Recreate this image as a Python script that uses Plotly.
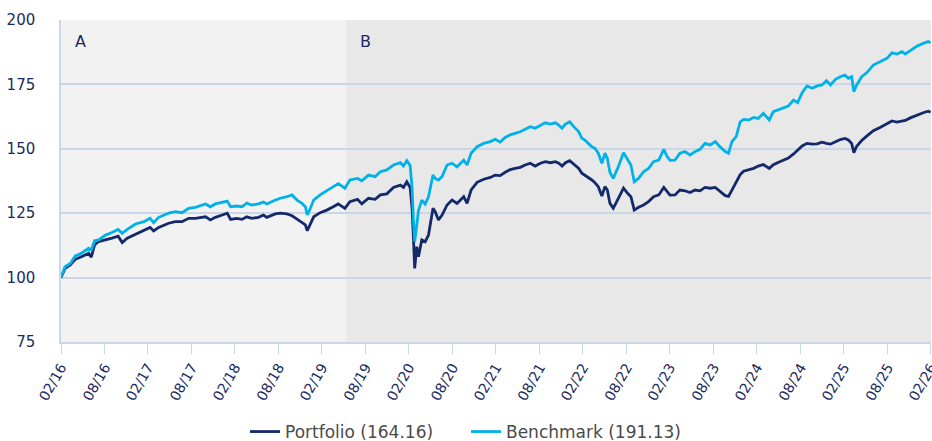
import plotly.graph_objects as go

# ---------------- data ----------------
dates = [
    "2016-02-29", "2016-03-17", "2016-04-08", "2016-04-29", "2016-05-20", "2016-06-10", "2016-06-24",
    "2016-07-05", "2016-07-19", "2016-08-05", "2016-09-03", "2016-09-30", "2016-10-26", "2016-11-12",
    "2016-12-03", "2017-01-07", "2017-02-11", "2017-03-09", "2017-03-24", "2017-04-14", "2017-05-26",
    "2017-06-23", "2017-07-21", "2017-08-18", "2017-09-15", "2017-10-28", "2017-11-17", "2017-12-08",
    "2018-01-06", "2018-01-27", "2018-02-10", "2018-03-08", "2018-03-30", "2018-04-19", "2018-05-10",
    "2018-06-07", "2018-06-28", "2018-07-12", "2018-08-17", "2018-09-07", "2018-10-05", "2018-10-26",
    "2018-11-16", "2018-12-07", "2018-12-21", "2018-12-29", "2019-01-11", "2019-01-25", "2019-02-21",
    "2019-03-21", "2019-04-17", "2019-05-08", "2019-06-05", "2019-06-26", "2019-07-28", "2019-08-15",
    "2019-09-12", "2019-10-10", "2019-11-01", "2019-11-28", "2019-12-26", "2020-01-24", "2020-02-06",
    "2020-02-20", "2020-03-05", "2020-03-13", "2020-03-19", "2020-03-24", "2020-04-02", "2020-04-09",
    "2020-04-23", "2020-05-07", "2020-05-21", "2020-06-09", "2020-06-18", "2020-07-02", "2020-07-17",
    "2020-08-07", "2020-08-28", "2020-09-18", "2020-10-16", "2020-10-30", "2020-11-16", "2020-12-11",
    "2021-01-08", "2021-02-05", "2021-02-25", "2021-03-18", "2021-04-08", "2021-04-29", "2021-05-20",
    "2021-06-10", "2021-07-01", "2021-07-22", "2021-08-12", "2021-09-03", "2021-09-23", "2021-10-15",
    "2021-11-05", "2021-11-19", "2021-12-03", "2021-12-17", "2022-01-04", "2022-01-21", "2022-02-11",
    "2022-02-24", "2022-03-09", "2022-03-23", "2022-04-07", "2022-04-20", "2022-05-04", "2022-05-19",
    "2022-06-01", "2022-06-11", "2022-06-22", "2022-07-06", "2022-07-27", "2022-08-18", "2022-09-04",
    "2022-09-18", "2022-10-02", "2022-10-20", "2022-11-10", "2022-12-01", "2022-12-22", "2023-01-13",
    "2023-02-03", "2023-02-16", "2023-03-01", "2023-03-22", "2023-04-12", "2023-05-03", "2023-05-24",
    "2023-06-14", "2023-07-05", "2023-07-26", "2023-08-17", "2023-09-07", "2023-09-27", "2023-10-19",
    "2023-11-02", "2023-11-16", "2023-12-04", "2023-12-21", "2024-01-04", "2024-01-26", "2024-02-15",
    "2024-03-06", "2024-03-27", "2024-04-21", "2024-05-08", "2024-05-30", "2024-06-19", "2024-07-10",
    "2024-08-01", "2024-08-18", "2024-09-06", "2024-09-26", "2024-10-18", "2024-11-08", "2024-11-28",
    "2024-12-17", "2025-01-03", "2025-01-24", "2025-02-13", "2025-03-05", "2025-03-19", "2025-04-02",
    "2025-04-11", "2025-04-23", "2025-05-14", "2025-06-04", "2025-07-02", "2025-07-30", "2025-08-28",
    "2025-09-18", "2025-10-09", "2025-10-30", "2025-11-13", "2025-12-04", "2026-01-02", "2026-01-30",
    "2026-02-18", "2026-02-27",
]

portfolio = [
    100.0, 103.6, 104.9, 107.1, 107.9, 108.8, 109.4,
    107.9, 112.7, 114.0, 114.6, 115.3, 116.1, 113.6,
    115.3, 116.9, 118.5, 119.5, 118.1, 119.5, 121.1,
    121.7, 121.7, 123.0, 123.0, 123.6, 122.4, 123.4,
    124.3, 125.0, 122.6, 123.0, 122.6, 123.6, 123.0,
    123.4, 124.3, 123.4, 124.7, 125.0, 124.7, 124.0,
    122.7, 121.5, 120.5, 118.2, 121.1, 123.6, 125.2,
    126.2, 127.5, 128.6, 126.9, 129.5, 130.4, 128.6,
    130.8, 130.4, 132.1, 132.5, 135.0, 135.9, 135.0,
    137.2, 135.0, 127.0, 115.0, 103.6, 112.0, 108.1,
    114.6, 113.9, 116.5, 126.9, 125.6, 122.4, 124.3,
    128.2, 130.1, 128.8, 131.4, 128.8, 134.0, 137.0,
    138.2, 138.9, 139.8, 139.6, 140.9, 141.9, 142.4,
    142.8, 143.7, 144.4, 143.3, 144.4, 145.0, 144.6,
    145.0, 144.4, 143.3, 144.6, 145.4, 144.1, 142.4,
    140.5, 139.8, 138.9, 137.9, 136.8, 135.3, 131.7,
    135.3, 134.0, 128.8, 126.9, 130.8, 134.7, 132.7,
    131.4, 126.2, 127.3, 128.2, 129.5, 131.4, 132.1,
    135.0, 133.3, 132.0, 132.1, 134.0, 133.7, 133.0,
    134.0, 133.7, 135.0, 134.7, 135.0, 133.3, 131.8,
    131.5, 134.0, 136.8, 140.0, 141.3, 141.9, 142.4,
    143.3, 143.9, 142.4, 143.8, 144.8, 145.6, 146.4,
    148.0, 149.4, 151.1, 152.1, 151.8, 151.9, 152.6,
    152.1, 151.8, 152.7, 153.6, 154.0, 153.4, 152.1,
    148.5, 151.0, 153.2, 154.9, 157.0, 158.3, 159.7,
    160.8, 160.4, 160.9, 161.0, 162.0, 163.2, 164.1,
    164.6, 164.16,
]

benchmark = [
    100.0, 104.2, 105.5, 108.4, 109.2, 110.7, 111.4,
    110.7, 114.3, 114.6, 116.5, 117.5, 118.7, 117.2,
    118.7, 120.8, 121.7, 123.0, 121.3, 123.4, 125.0,
    125.6, 125.2, 126.9, 127.3, 128.6, 127.5, 128.6,
    129.1, 129.7, 127.5, 127.8, 127.5, 128.9, 128.2,
    128.6, 129.3, 128.6, 130.1, 130.8, 131.4, 132.1,
    130.1, 128.8, 127.5, 124.3, 126.9, 130.1, 132.1,
    133.7, 135.0, 136.5, 134.7, 137.9, 138.5, 137.6,
    139.8, 139.2, 141.1, 141.8, 143.7, 144.6, 143.3,
    145.4, 143.5, 135.0, 122.0, 113.9, 120.5, 126.0,
    130.1, 128.5, 131.4, 139.8, 138.5, 137.9, 139.2,
    143.7, 144.4, 143.0, 145.6, 143.7, 148.3, 150.8,
    152.1, 152.8, 153.7, 152.6, 154.4, 155.4, 156.0,
    156.6, 157.6, 158.6, 158.0, 159.2, 160.1, 159.6,
    160.1, 159.2, 158.0, 159.6, 160.5, 158.6, 156.6,
    154.1, 153.4, 152.1, 150.8, 150.2, 148.3, 144.4,
    148.3, 146.3, 140.8, 138.5, 143.0, 148.5, 145.6,
    143.7, 137.2, 138.5, 141.1, 142.4, 145.0, 145.6,
    149.8, 147.2, 145.5, 145.6, 148.3, 148.9, 147.6,
    148.9, 149.8, 152.1, 151.5, 152.8, 150.8, 148.9,
    148.3, 152.8, 154.7, 160.5, 161.4, 161.2, 162.2,
    161.8, 163.8, 161.2, 164.4, 165.1, 165.7, 166.6,
    168.9, 167.9, 171.8, 174.4, 173.5, 174.4, 174.8,
    176.4, 174.8, 177.0, 178.0, 178.6, 177.4, 178.0,
    172.2, 174.8, 178.0, 179.5, 182.5, 183.8, 185.1,
    187.3, 186.8, 187.7, 186.8, 188.1, 189.9, 191.0,
    191.6, 191.13,
]

series_names = ["Portfolio (164.16)", "Benchmark (191.13)"]

period_labels = ["A", "B"]
period_starts = ["2016-02-29", "2019-06-10"]
period_ends = ["2019-06-10", "2026-03-01"]

tick_dates = [
    "2016-02-29", "2016-08-31", "2017-02-28", "2017-08-31", "2018-02-28", "2018-08-31",
    "2019-02-28", "2019-08-31", "2020-02-29", "2020-08-31", "2021-02-28", "2021-08-31",
    "2022-02-28", "2022-08-31", "2023-02-28", "2023-08-31", "2024-02-29", "2024-08-31",
    "2025-02-28", "2025-08-31", "2026-02-28",
]
tick_labels = [
    "02/16", "08/16", "02/17", "08/17", "02/18", "08/18", "02/19", "08/19", "02/20", "08/20",
    "02/21", "08/21", "02/22", "08/22", "02/23", "08/23", "02/24", "08/24", "02/25", "08/25",
    "02/26",
]
y_ticks = [75, 100, 125, 150, 175, 200]

# ---------------- style ----------------
FONT = "DejaVu Sans"
NAVY_TEXT = "#1b2a5e"
GRID = "#c9d6e8"
period_colors = ["#f2f2f2", "#e8e8e8"]
line_colors = ["#13296b", "#00b2e8"]

fig = go.Figure()
for name, vals, col in zip(series_names, [portfolio, benchmark], line_colors):
    fig.add_trace(go.Scatter(
        x=dates, y=vals, mode="lines", name=name,
        line=dict(color=col, width=2.8), hoverinfo="skip",
    ))

shapes = []
annotations = []
for lab, s, e, c in zip(period_labels, period_starts, period_ends, period_colors):
    shapes.append(dict(type="rect", xref="x", yref="paper", x0=s, x1=e, y0=0, y1=1,
                       fillcolor=c, line=dict(width=0), layer="below"))
    annotations.append(dict(x=s, y=1, xref="x", yref="paper", text=lab, showarrow=False,
                            xanchor="left", yanchor="top", xshift=12, yshift=-10,
                            font=dict(family=FONT, size=16, color=NAVY_TEXT)))

fig.update_layout(
    width=932, height=441,
    margin=dict(l=61, r=1, t=20, b=99),
    paper_bgcolor="white",
    plot_bgcolor="white",
    shapes=shapes,
    annotations=annotations,
    showlegend=True,
    legend=dict(orientation="h", xref="container", yref="container", x=0.5, y=0.0204,
                xanchor="center", yanchor="middle",
                font=dict(family=FONT, size=17, color="#4a4a4a"),
                itemwidth=30, traceorder="normal",
                entrywidth=176, entrywidthmode="pixels"),
    font=dict(family=FONT, size=15, color=NAVY_TEXT),
)

fig.update_xaxes(
    type="date",
    range=[period_starts[0], period_ends[-1]],
    tickmode="array", tickvals=tick_dates, ticktext=tick_labels,
    tickangle=-60, ticks="outside", ticklen=10, tickcolor=GRID, tickwidth=1,
    ticklabeloverflow="allow",
    showgrid=False, showline=True, linecolor=GRID, linewidth=1.5,
    tickfont=dict(family=FONT, size=14, color=NAVY_TEXT),
    zeroline=False, automargin=False,
)
fig.update_yaxes(
    range=[75, 200], tickvals=y_ticks,
    showgrid=True, gridcolor=GRID, gridwidth=1.5,
    showline=True, linecolor=GRID, linewidth=1.5,
    ticks="", ticklabelstandoff=21,
    tickfont=dict(family=FONT, size=15, color=NAVY_TEXT),
    zeroline=False, automargin=False,
)

# remove the default 8px page margin so the figure fills the window exactly
fig.write_html("out.html", config={"displayModeBar": False},
               post_script="document.body.style.margin='0';")
